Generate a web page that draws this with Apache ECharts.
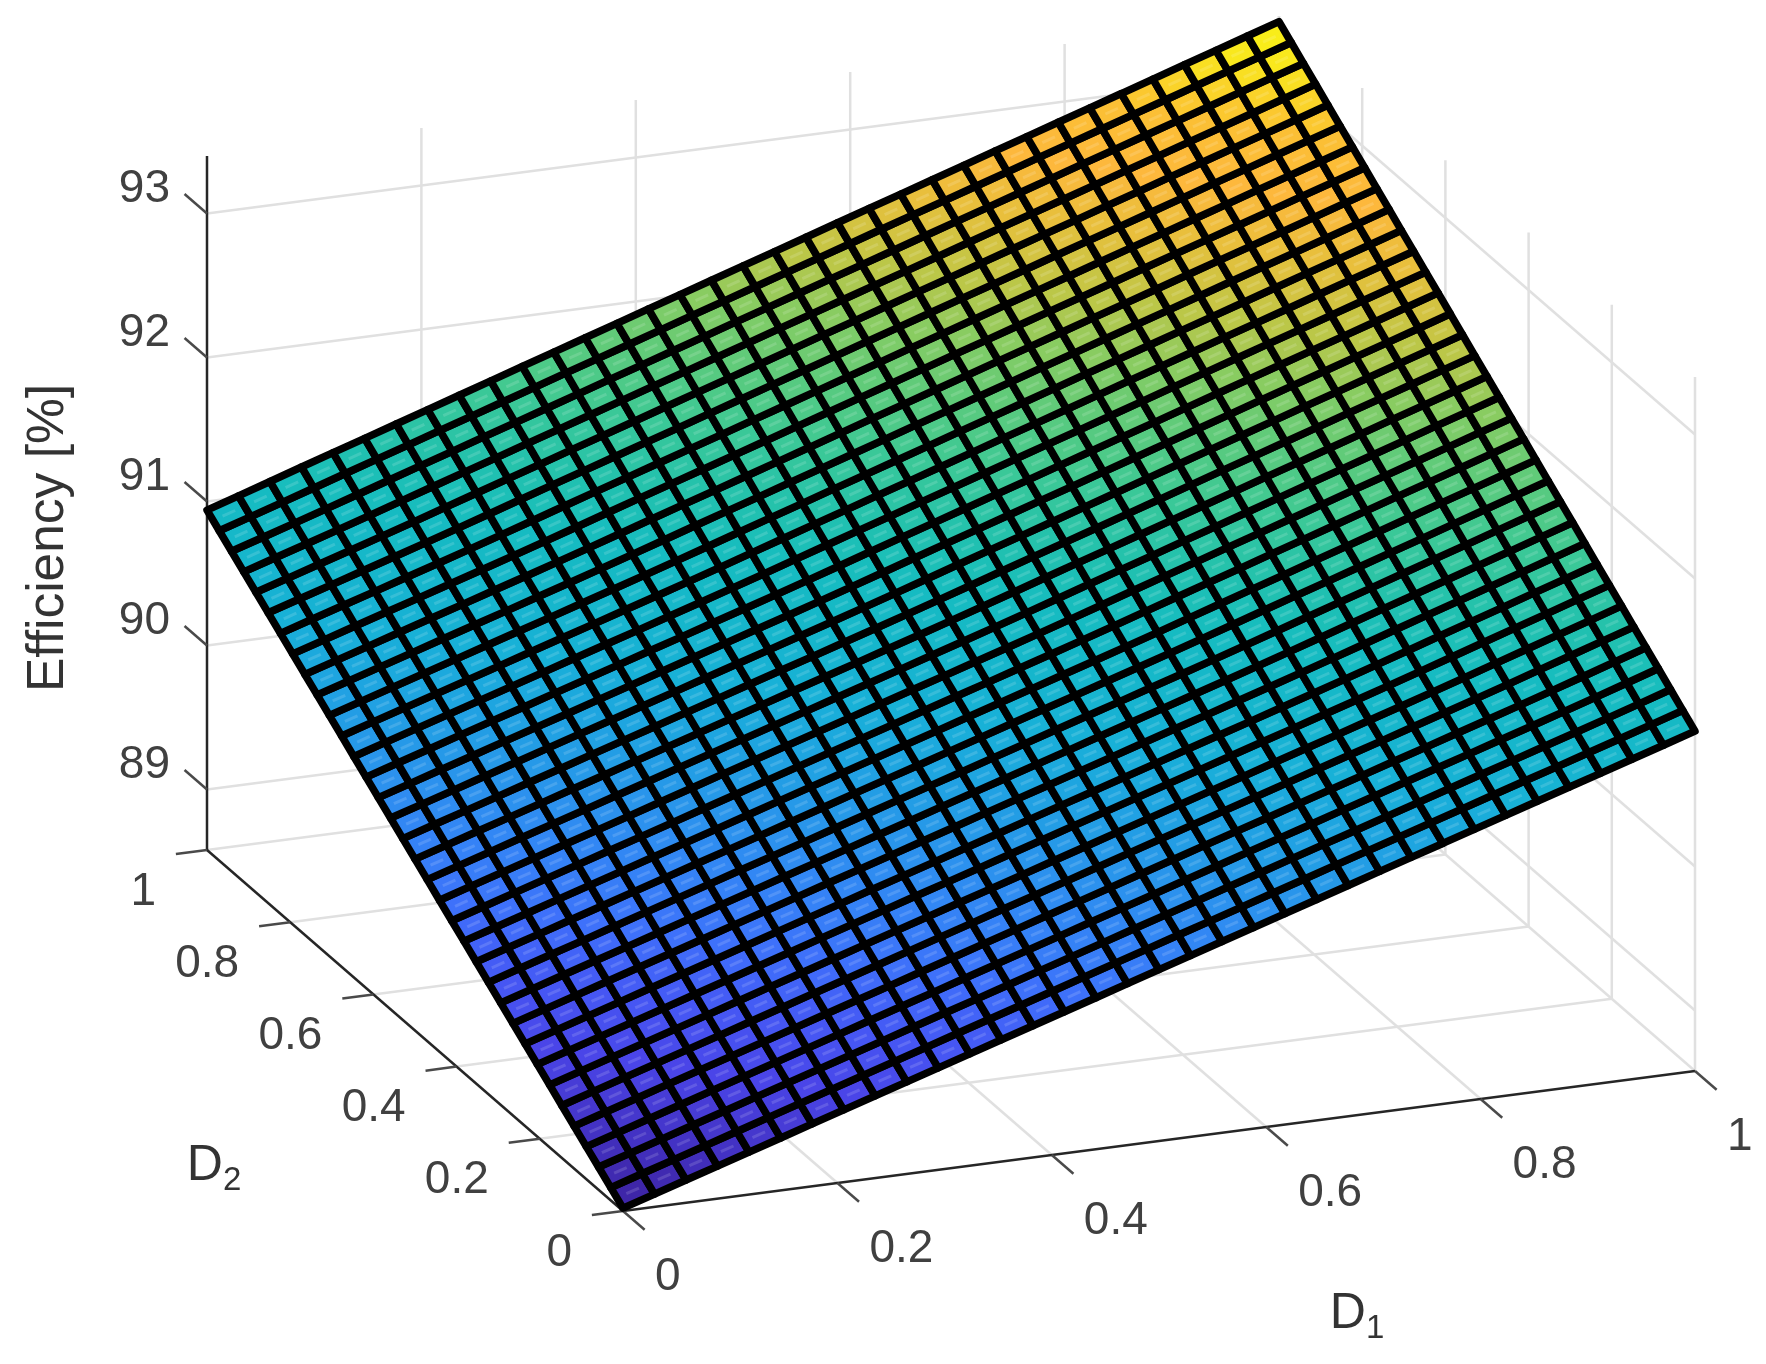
<!DOCTYPE html>
<html>
<head>
<meta charset="utf-8">
<title>Efficiency surface</title>
<script src="https://cdn.jsdelivr.net/npm/echarts@6/dist/echarts.min.js"></script>
<style>
html,body{margin:0;padding:0;background:#fff}
#chart{width:1766px;height:1364px}
</style>
</head>
<body>
<div id="chart"></div>
<script>
// mesh nodes
const d1Values = [0,0.0294,0.0588,0.0882,0.1176,0.1471,0.1765,0.2059,0.2353,0.2647,0.2941,0.3235,0.3529,0.3824,0.4118,0.4412,0.4706,0.5,0.5294,0.5588,0.5882,0.6176,0.6471,0.6765,0.7059,0.7353,0.7647,0.7941,0.8235,0.8529,0.8824,0.9118,0.9412,0.9706,1];
const d2Values = [0,0.0294,0.0588,0.0882,0.1176,0.1471,0.1765,0.2059,0.2353,0.2647,0.2941,0.3235,0.3529,0.3824,0.4118,0.4412,0.4706,0.5,0.5294,0.5588,0.5882,0.6176,0.6471,0.6765,0.7059,0.7353,0.7647,0.7941,0.8235,0.8529,0.8824,0.9118,0.9412,0.9706,1];
// efficiency[d2 index][d1 index]
const efficiency = [
[88.600,88.669,88.738,88.806,88.875,88.944,89.013,89.082,89.151,89.219,89.288,89.357,89.426,89.495,89.563,89.632,89.701,89.770,89.839,89.908,89.976,90.045,90.114,90.183,90.252,90.321,90.389,90.458,90.527,90.596,90.665,90.733,90.802,90.871,90.940],
[88.669,88.738,88.806,88.875,88.944,89.013,89.082,89.151,89.219,89.288,89.357,89.426,89.495,89.563,89.632,89.701,89.770,89.839,89.908,89.976,90.045,90.114,90.183,90.252,90.321,90.389,90.458,90.527,90.596,90.665,90.733,90.802,90.871,90.940,91.011],
[88.738,88.806,88.875,88.944,89.013,89.082,89.151,89.219,89.288,89.357,89.426,89.495,89.563,89.632,89.701,89.770,89.839,89.908,89.976,90.045,90.114,90.183,90.252,90.321,90.389,90.458,90.527,90.596,90.665,90.733,90.802,90.871,90.940,91.011,91.082],
[88.806,88.875,88.944,89.013,89.082,89.151,89.219,89.288,89.357,89.426,89.495,89.563,89.632,89.701,89.770,89.839,89.908,89.976,90.045,90.114,90.183,90.252,90.321,90.389,90.458,90.527,90.596,90.665,90.733,90.802,90.871,90.940,91.011,91.082,91.154],
[88.875,88.944,89.013,89.082,89.151,89.219,89.288,89.357,89.426,89.495,89.563,89.632,89.701,89.770,89.839,89.908,89.976,90.045,90.114,90.183,90.252,90.321,90.389,90.458,90.527,90.596,90.665,90.733,90.802,90.871,90.940,91.011,91.082,91.154,91.225],
[88.944,89.013,89.082,89.151,89.219,89.288,89.357,89.426,89.495,89.563,89.632,89.701,89.770,89.839,89.908,89.976,90.045,90.114,90.183,90.252,90.321,90.389,90.458,90.527,90.596,90.665,90.733,90.802,90.871,90.940,91.011,91.082,91.154,91.225,91.296],
[89.013,89.082,89.151,89.219,89.288,89.357,89.426,89.495,89.563,89.632,89.701,89.770,89.839,89.908,89.976,90.045,90.114,90.183,90.252,90.321,90.389,90.458,90.527,90.596,90.665,90.733,90.802,90.871,90.940,91.011,91.082,91.154,91.225,91.296,91.367],
[89.082,89.151,89.219,89.288,89.357,89.426,89.495,89.563,89.632,89.701,89.770,89.839,89.908,89.976,90.045,90.114,90.183,90.252,90.321,90.389,90.458,90.527,90.596,90.665,90.733,90.802,90.871,90.940,91.011,91.082,91.154,91.225,91.296,91.367,91.438],
[89.151,89.219,89.288,89.357,89.426,89.495,89.563,89.632,89.701,89.770,89.839,89.908,89.976,90.045,90.114,90.183,90.252,90.321,90.389,90.458,90.527,90.596,90.665,90.733,90.802,90.871,90.940,91.011,91.082,91.154,91.225,91.296,91.367,91.438,91.509],
[89.219,89.288,89.357,89.426,89.495,89.563,89.632,89.701,89.770,89.839,89.908,89.976,90.045,90.114,90.183,90.252,90.321,90.389,90.458,90.527,90.596,90.665,90.733,90.802,90.871,90.940,91.011,91.082,91.154,91.225,91.296,91.367,91.438,91.509,91.581],
[89.288,89.357,89.426,89.495,89.563,89.632,89.701,89.770,89.839,89.908,89.976,90.045,90.114,90.183,90.252,90.321,90.389,90.458,90.527,90.596,90.665,90.733,90.802,90.871,90.940,91.011,91.082,91.154,91.225,91.296,91.367,91.438,91.509,91.581,91.652],
[89.357,89.426,89.495,89.563,89.632,89.701,89.770,89.839,89.908,89.976,90.045,90.114,90.183,90.252,90.321,90.389,90.458,90.527,90.596,90.665,90.733,90.802,90.871,90.940,91.011,91.082,91.154,91.225,91.296,91.367,91.438,91.509,91.581,91.652,91.723],
[89.426,89.495,89.563,89.632,89.701,89.770,89.839,89.908,89.976,90.045,90.114,90.183,90.252,90.321,90.389,90.458,90.527,90.596,90.665,90.733,90.802,90.871,90.940,91.011,91.082,91.154,91.225,91.296,91.367,91.438,91.509,91.581,91.652,91.723,91.794],
[89.495,89.563,89.632,89.701,89.770,89.839,89.908,89.976,90.045,90.114,90.183,90.252,90.321,90.389,90.458,90.527,90.596,90.665,90.733,90.802,90.871,90.940,91.011,91.082,91.154,91.225,91.296,91.367,91.438,91.509,91.581,91.652,91.723,91.794,91.865],
[89.563,89.632,89.701,89.770,89.839,89.908,89.976,90.045,90.114,90.183,90.252,90.321,90.389,90.458,90.527,90.596,90.665,90.733,90.802,90.871,90.940,91.011,91.082,91.154,91.225,91.296,91.367,91.438,91.509,91.581,91.652,91.723,91.794,91.865,91.937],
[89.632,89.701,89.770,89.839,89.908,89.976,90.045,90.114,90.183,90.252,90.321,90.389,90.458,90.527,90.596,90.665,90.733,90.802,90.871,90.940,91.011,91.082,91.154,91.225,91.296,91.367,91.438,91.509,91.581,91.652,91.723,91.794,91.865,91.937,92.008],
[89.701,89.770,89.839,89.908,89.976,90.045,90.114,90.183,90.252,90.321,90.389,90.458,90.527,90.596,90.665,90.733,90.802,90.871,90.940,91.011,91.082,91.154,91.225,91.296,91.367,91.438,91.509,91.581,91.652,91.723,91.794,91.865,91.937,92.008,92.079],
[89.770,89.839,89.908,89.976,90.045,90.114,90.183,90.252,90.321,90.389,90.458,90.527,90.596,90.665,90.733,90.802,90.871,90.940,91.011,91.082,91.154,91.225,91.296,91.367,91.438,91.509,91.581,91.652,91.723,91.794,91.865,91.937,92.008,92.079,92.150],
[89.839,89.908,89.976,90.045,90.114,90.183,90.252,90.321,90.389,90.458,90.527,90.596,90.665,90.733,90.802,90.871,90.940,91.011,91.082,91.154,91.225,91.296,91.367,91.438,91.509,91.581,91.652,91.723,91.794,91.865,91.937,92.008,92.079,92.150,92.221],
[89.908,89.976,90.045,90.114,90.183,90.252,90.321,90.389,90.458,90.527,90.596,90.665,90.733,90.802,90.871,90.940,91.011,91.082,91.154,91.225,91.296,91.367,91.438,91.509,91.581,91.652,91.723,91.794,91.865,91.937,92.008,92.079,92.150,92.221,92.292],
[89.976,90.045,90.114,90.183,90.252,90.321,90.389,90.458,90.527,90.596,90.665,90.733,90.802,90.871,90.940,91.011,91.082,91.154,91.225,91.296,91.367,91.438,91.509,91.581,91.652,91.723,91.794,91.865,91.937,92.008,92.079,92.150,92.221,92.292,92.364],
[90.045,90.114,90.183,90.252,90.321,90.389,90.458,90.527,90.596,90.665,90.733,90.802,90.871,90.940,91.011,91.082,91.154,91.225,91.296,91.367,91.438,91.509,91.581,91.652,91.723,91.794,91.865,91.937,92.008,92.079,92.150,92.221,92.292,92.364,92.435],
[90.114,90.183,90.252,90.321,90.389,90.458,90.527,90.596,90.665,90.733,90.802,90.871,90.940,91.011,91.082,91.154,91.225,91.296,91.367,91.438,91.509,91.581,91.652,91.723,91.794,91.865,91.937,92.008,92.079,92.150,92.221,92.292,92.364,92.435,92.506],
[90.183,90.252,90.321,90.389,90.458,90.527,90.596,90.665,90.733,90.802,90.871,90.940,91.011,91.082,91.154,91.225,91.296,91.367,91.438,91.509,91.581,91.652,91.723,91.794,91.865,91.937,92.008,92.079,92.150,92.221,92.292,92.364,92.435,92.506,92.577],
[90.252,90.321,90.389,90.458,90.527,90.596,90.665,90.733,90.802,90.871,90.940,91.011,91.082,91.154,91.225,91.296,91.367,91.438,91.509,91.581,91.652,91.723,91.794,91.865,91.937,92.008,92.079,92.150,92.221,92.292,92.364,92.435,92.506,92.577,92.648],
[90.321,90.389,90.458,90.527,90.596,90.665,90.733,90.802,90.871,90.940,91.011,91.082,91.154,91.225,91.296,91.367,91.438,91.509,91.581,91.652,91.723,91.794,91.865,91.937,92.008,92.079,92.150,92.221,92.292,92.364,92.435,92.506,92.577,92.648,92.720],
[90.389,90.458,90.527,90.596,90.665,90.733,90.802,90.871,90.940,91.011,91.082,91.154,91.225,91.296,91.367,91.438,91.509,91.581,91.652,91.723,91.794,91.865,91.937,92.008,92.079,92.150,92.221,92.292,92.364,92.435,92.506,92.577,92.648,92.720,92.791],
[90.458,90.527,90.596,90.665,90.733,90.802,90.871,90.940,91.011,91.082,91.154,91.225,91.296,91.367,91.438,91.509,91.581,91.652,91.723,91.794,91.865,91.937,92.008,92.079,92.150,92.221,92.292,92.364,92.435,92.506,92.577,92.648,92.720,92.791,92.862],
[90.527,90.596,90.665,90.733,90.802,90.871,90.940,91.011,91.082,91.154,91.225,91.296,91.367,91.438,91.509,91.581,91.652,91.723,91.794,91.865,91.937,92.008,92.079,92.150,92.221,92.292,92.364,92.435,92.506,92.577,92.648,92.720,92.791,92.862,92.933],
[90.596,90.665,90.733,90.802,90.871,90.940,91.011,91.082,91.154,91.225,91.296,91.367,91.438,91.509,91.581,91.652,91.723,91.794,91.865,91.937,92.008,92.079,92.150,92.221,92.292,92.364,92.435,92.506,92.577,92.648,92.720,92.791,92.862,92.933,93.004],
[90.665,90.733,90.802,90.871,90.940,91.011,91.082,91.154,91.225,91.296,91.367,91.438,91.509,91.581,91.652,91.723,91.794,91.865,91.937,92.008,92.079,92.150,92.221,92.292,92.364,92.435,92.506,92.577,92.648,92.720,92.791,92.862,92.933,93.004,93.076],
[90.733,90.802,90.871,90.940,91.011,91.082,91.154,91.225,91.296,91.367,91.438,91.509,91.581,91.652,91.723,91.794,91.865,91.937,92.008,92.079,92.150,92.221,92.292,92.364,92.435,92.506,92.577,92.648,92.720,92.791,92.862,92.933,93.004,93.076,93.147],
[90.802,90.871,90.940,91.011,91.082,91.154,91.225,91.296,91.367,91.438,91.509,91.581,91.652,91.723,91.794,91.865,91.937,92.008,92.079,92.150,92.221,92.292,92.364,92.435,92.506,92.577,92.648,92.720,92.791,92.862,92.933,93.004,93.076,93.147,93.218],
[90.871,90.940,91.011,91.082,91.154,91.225,91.296,91.367,91.438,91.509,91.581,91.652,91.723,91.794,91.865,91.937,92.008,92.079,92.150,92.221,92.292,92.364,92.435,92.506,92.577,92.648,92.720,92.791,92.862,92.933,93.004,93.076,93.147,93.218,93.289],
[90.940,91.011,91.082,91.154,91.225,91.296,91.367,91.438,91.509,91.581,91.652,91.723,91.794,91.865,91.937,92.008,92.079,92.150,92.221,92.292,92.364,92.435,92.506,92.577,92.648,92.720,92.791,92.862,92.933,93.004,93.076,93.147,93.218,93.289,93.360]
];
const d1Ticks = [0,0.2,0.4,0.6,0.8,1];
const d2Ticks = [0,0.2,0.4,0.6,0.8,1];
const effTicks = [89,90,91,92,93];
const effFloor = 88.58, effTop = 93.4;
// parula-like colour stops
const parulaStops = ['#3e26a8','#4434c8','#4a45e8','#4558f4','#3f70fa','#3484f6','#2a94ec','#20a2e2','#18b0d8','#16b6cc','#16bcc0','#24c2ac','#3cc896','#5ccb7c','#88cc62','#c0c646','#e6c03c','#fdb83c','#fbc034','#f9e61e','#f9f712'];

// view: oblique projection of the 3d box onto the page axes
const view = {ox:623, oy:1211, d1x:1072, d1y:-140, d2x:-416, d2y:-361, ez:144};
function project(d1, d2, eff) {
    return [
        view.ox + view.d1x*d1 + view.d2x*d2,
        view.oy + view.d1y*d1 + view.d2y*d2 - view.ez*(eff-effFloor)
    ];
}

// box gridlines, [d1,d2,eff, d1,d2,eff]
const gridSegs = [];
d1Ticks.slice(1).forEach(t => {
    gridSegs.push([t,0,effFloor, t,1,effFloor]);
    gridSegs.push([t,1,effFloor, t,1,effTop]);
});
d2Ticks.slice(1).forEach(t => gridSegs.push([0,t,effFloor, 1,t,effFloor]));
d2Ticks.forEach(t => gridSegs.push([1,t,effFloor, 1,t,effTop]));
effTicks.forEach(t => {
    gridSegs.push([0,1,t, 1,1,t]);
    gridSegs.push([1,1,t, 1,0,t]);
});

// axis lines and tick marks
const axisSegs = [
    [0,0,effFloor, 1,0,effFloor],
    [0,0,effFloor, 0,1,effFloor],
    [0,1,effFloor, 0,1,effTop]
];
const tickSegs = [];
d1Ticks.forEach(t => tickSegs.push([t,0,effFloor, t,-0.052,effFloor]));
d2Ticks.forEach(t => tickSegs.push([0,t,effFloor, -0.029,t,effFloor]));
effTicks.forEach(t => tickSegs.push([0,1,t, 0,1.054,t]));

// surface cells
const cells = [];
for (let j = 0; j < d2Values.length-1; j++) {
    for (let i = 0; i < d1Values.length-1; i++) {
        cells.push([d1Values[i], d2Values[j], efficiency[j][i], i, j]);
    }
}

function segRenderer(color, width) {
    return function (params, api) {
        const a = api.coord(project(api.value(0), api.value(1), api.value(2)));
        const b = api.coord(project(api.value(3), api.value(4), api.value(5)));
        return {
            type:'line',
            shape:{x1:a[0], y1:a[1], x2:b[0], y2:b[1]},
            style:{stroke:color, lineWidth:width, lineCap:'butt'}
        };
    };
}

function cellRenderer(params, api) {
    const i = api.value(3), j = api.value(4);
    const corners = [[i,j],[i+1,j],[i+1,j+1],[i,j+1]].map(c =>
        api.coord(project(d1Values[c[0]], d2Values[c[1]], efficiency[c[1]][c[0]])));
    // pale streak along the middle of each cell
    const midA = [(corners[0][0]+corners[3][0])/2, (corners[0][1]+corners[3][1])/2];
    const midB = [(corners[1][0]+corners[2][0])/2, (corners[1][1]+corners[2][1])/2];
    return {
        type:'group',
        children:[
            {type:'polygon', shape:{points:corners},
                style:{fill:api.visual('color'), stroke:'#000', lineWidth:7.5, lineJoin:'round'}},
            {type:'line', shape:{
                    x1:midA[0]+(midB[0]-midA[0])*0.3, y1:midA[1]+(midB[1]-midA[1])*0.3,
                    x2:midA[0]+(midB[0]-midA[0])*0.7, y2:midA[1]+(midB[1]-midA[1])*0.7},
                style:{stroke:'rgba(255,255,255,0.14)', lineWidth:3}}
        ]
    };
}

function labelRenderer(labels, dx, dy, align) {
    return function (params, api) {
        const p = api.coord(project(api.value(0), api.value(1), api.value(2)));
        return {
            type:'text',
            x:p[0]+dx, y:p[1]+dy,
            style:{
                text:labels[params.dataIndex],
                fontFamily:'Liberation Sans', fontSize:46, fill:'#404040',
                align:align, verticalAlign:'middle'
            }
        };
    };
}

function customSeries(data, renderItem, z) {
    return {type:'custom', coordinateSystem:'cartesian2d', data:data, renderItem:renderItem,
        clip:false, silent:true, z:z, animation:false, encode:{x:0, y:1}};
}

const axisTitle = {fontFamily:'Liberation Sans', fill:'#333'};
const nameRich = {
    d:Object.assign({fontSize:50, verticalAlign:'bottom'}, axisTitle),
    s:Object.assign({fontSize:33, verticalAlign:'bottom', padding:[0,0,-6,0]}, axisTitle)
};

const chart = echarts.init(document.getElementById('chart'));
chart.setOption({
    backgroundColor:'#fff',
    animation:false,
    grid:{left:0, right:0, top:0, bottom:0},
    xAxis:{type:'value', min:0, max:1766, show:false},
    yAxis:{type:'value', min:0, max:1364, inverse:true, show:false},
    visualMap:{show:false, type:'continuous', seriesIndex:3, dimension:2,
        min:88.6, max:93.36, inRange:{color:parulaStops}},
    series:[
        customSeries(gridSegs, segRenderer('#e0e0e0', 2.5), 1),
        customSeries(axisSegs, segRenderer('#262626', 2.5), 2),
        customSeries(tickSegs, segRenderer('#4a4a4a', 2.5), 2),
        customSeries(cells, cellRenderer, 3),
        customSeries(d1Ticks.map(t => [t,0,effFloor]), labelRenderer(['0','0.2','0.4','0.6','0.8','1'], 32, 66, 'left'), 4),
        customSeries(d2Ticks.map(t => [0,t,effFloor]), labelRenderer(['0','0.2','0.4','0.6','0.8','1'], -51, 42, 'right'), 4),
        customSeries(effTicks.map(t => [0,1,t]), labelRenderer(['89','90','91','92','93'], -37, -24, 'right'), 4)
    ],
    graphic:[
        {type:'text', x:49, y:538, rotation:Math.PI/2, z:5,
            style:Object.assign({text:'Efficiency [%]', fontSize:51.5, align:'center', verticalAlign:'middle'}, axisTitle)},
        {type:'text', x:214, y:1166, z:5,
            style:{text:'{d|D}{s|2}', align:'center', verticalAlign:'middle', rich:nameRich}},
        {type:'text', x:1357, y:1314, z:5,
            style:{text:'{d|D}{s|1}', align:'center', verticalAlign:'middle', rich:nameRich}}
    ]
});
</script>
</body>
</html>
